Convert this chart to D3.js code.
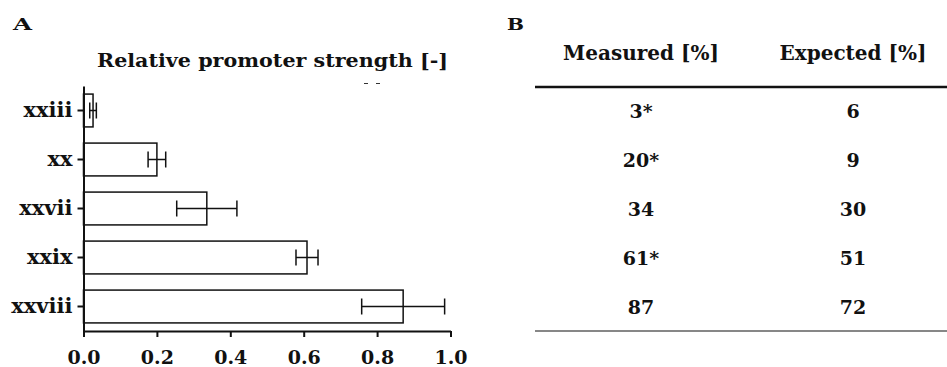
<!DOCTYPE html>
<html>
<head>
<meta charset="utf-8">
<script src="https://cdn.jsdelivr.net/npm/d3@7"></script>
<style>
  html, body { margin: 0; padding: 0; background: #fff; }
  svg { display: block; }
  text { font-family: "DejaVu Serif", "Liberation Serif", serif; font-weight: bold; fill: #111; }
</style>
</head>
<body>
<svg id="fig" width="947" height="367"></svg>
<script>
// Promoter variants, their relative strength (mean ± error) and the table of percentages
const categories = ["xxiii", "xx", "xxvii", "xxix", "xxviii"];
const strength = [0.026, 0.200, 0.336, 0.609, 0.871];
const strengthErr = [0.009, 0.024, 0.082, 0.030, 0.113];
const xTicks = [0, 0.2, 0.4, 0.6, 0.8, 1.0];
const columns = ["Measured [%]", "Expected [%]"];
const measured = [3, 20, 34, 61, 87];
const significant = [true, true, false, true, false];
const expected = [6, 9, 30, 51, 72];

const svg = d3.select("#fig");
const ink = "#111";

// ---------- Panel A: horizontal bar chart ----------
const x = d3.scaleLinear().domain([0, 1]).range([83.5, 450.5]);
const y = d3.scaleBand().domain(categories).range([86, 331])
  .paddingInner(0.33).paddingOuter(0.165);

svg.append("text").attr("x", 13).attr("y", 30)
  .style("font-size", "17px")
  .attr("textLength", 19).attr("lengthAdjust", "spacingAndGlyphs")
  .text("A");

svg.append("text")
  .attr("x", 97).attr("y", 60)
  .attr("dominant-baseline", "central")
  .style("font-size", "19px")
  .attr("textLength", 351).attr("lengthAdjust", "spacingAndGlyphs")
  .text("Relative promoter strength [-]");

// two short stray dashes just below the title
svg.append("g").attr("stroke", "#333").attr("stroke-width", 1)
  .selectAll("line").data([364, 376]).join("line")
  .attr("x1", d => d).attr("x2", d => d + 4)
  .attr("y1", 83.5).attr("y2", 83.5);

const bars = svg.append("g");
bars.selectAll("rect").data(categories).join("rect")
  .attr("x", x(0))
  .attr("y", d => y(d))
  .attr("width", (d, i) => x(strength[i]) - x(0))
  .attr("height", y.bandwidth())
  .attr("fill", "#fff")
  .attr("stroke", ink)
  .attr("stroke-width", 1.5);

// error bars
const capH = 16;
const eb = svg.append("g").attr("stroke", ink).attr("stroke-width", 1.5);
categories.forEach((c, i) => {
  const cy = y(c) + y.bandwidth() / 2;
  const lo = x(strength[i] - strengthErr[i]);
  const hi = x(strength[i] + strengthErr[i]);
  eb.append("line").attr("x1", lo).attr("x2", hi).attr("y1", cy).attr("y2", cy);
  eb.append("line").attr("x1", lo).attr("x2", lo).attr("y1", cy - capH / 2).attr("y2", cy + capH / 2);
  eb.append("line").attr("x1", hi).attr("x2", hi).attr("y1", cy - capH / 2).attr("y2", cy + capH / 2);
});

// bottom axis
const xAxis = svg.append("g").attr("transform", "translate(0,331)")
  .call(d3.axisBottom(x).tickValues(xTicks).tickFormat(d3.format(".1f"))
    .tickSize(6).tickSizeOuter(0).tickPadding(14));
xAxis.select(".domain").attr("stroke", ink).attr("stroke-width", 2);
xAxis.selectAll(".tick line").attr("stroke", ink).attr("stroke-width", 2);
xAxis.selectAll(".tick text")
  .attr("fill", ink)
  .style("font-family", '"DejaVu Serif", serif').style("font-weight", "bold")
  .style("font-size", "19px");

// left axis
const yAxis = svg.append("g").attr("transform", `translate(${x(0)},0)`)
  .call(d3.axisLeft(y).tickSize(6).tickSizeOuter(0).tickPadding(5));
yAxis.select(".domain").attr("stroke", ink).attr("stroke-width", 2);
yAxis.selectAll(".tick line").attr("stroke", ink).attr("stroke-width", 2);
yAxis.selectAll(".tick text")
  .attr("fill", ink)
  .style("font-family", '"DejaVu Serif", serif').style("font-weight", "bold")
  .style("font-size", "21px");

// ---------- Panel B: table ----------
svg.append("text").attr("x", 507).attr("y", 30)
  .style("font-size", "17px")
  .attr("textLength", 17).attr("lengthAdjust", "spacingAndGlyphs")
  .text("B");

const colX = d3.scalePoint().domain(columns).range([641, 853]);
const rows = d3.scaleBand().domain(d3.range(measured.length)).range([86, 331])
  .paddingInner(0.33).paddingOuter(0.165);

svg.selectAll(".colhead").data(columns).join("text")
  .attr("class", "colhead")
  .attr("x", d => colX(d)).attr("y", 53)
  .attr("text-anchor", "middle").attr("dominant-baseline", "central")
  .style("font-size", "20px")
  .text(d => d);

svg.append("line").attr("x1", 535).attr("x2", 947).attr("y1", 87).attr("y2", 87)
  .attr("stroke", ink).attr("stroke-width", 2.5);
svg.append("line").attr("x1", 535).attr("x2", 947).attr("y1", 331).attr("y2", 331)
  .attr("stroke", ink).attr("stroke-width", 1.2);

const cells = svg.append("g");
measured.forEach((m, i) => {
  const cy = rows(i) + rows.bandwidth() / 2;
  cells.append("text").attr("x", colX(columns[0])).attr("y", cy)
    .attr("text-anchor", "middle").attr("dominant-baseline", "central")
    .style("font-size", "19px")
    .text(m + (significant[i] ? "*" : ""));
  cells.append("text").attr("x", colX(columns[1])).attr("y", cy)
    .attr("text-anchor", "middle").attr("dominant-baseline", "central")
    .style("font-size", "19px")
    .text(expected[i]);
});
</script>
</body>
</html>
